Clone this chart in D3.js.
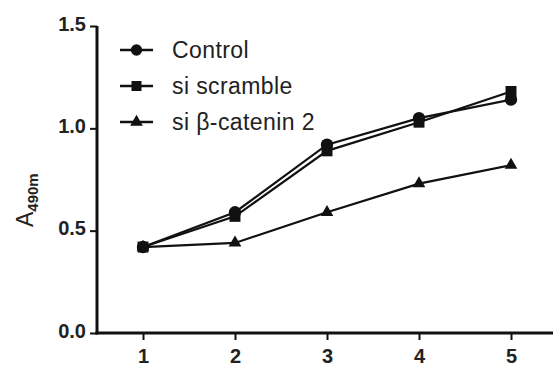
<!DOCTYPE html>
<html>
<head>
<meta charset="utf-8">
<script src="https://cdn.jsdelivr.net/npm/d3@7"></script>
<style>
  body { margin: 0; background: #fff; }
  svg text { font-family: "Liberation Sans", Arial, sans-serif; fill: #222; }
</style>
</head>
<body>
<div id="chart"></div>
<script>
var width = 553, height = 370;

// data
var days = [1, 2, 3, 4, 5];
var control = [0.42, 0.59, 0.92, 1.05, 1.14];
var scramble = [0.42, 0.57, 0.89, 1.03, 1.18];
var siCatenin = [0.42, 0.44, 0.59, 0.73, 0.82];
var yTicks = [0.0, 0.5, 1.0, 1.5];
var seriesNames = ["Control", "si scramble", "si \u03b2-catenin 2"];
var seriesValues = [control, scramble, siCatenin];
var seriesSymbols = [d3.symbolCircle, d3.symbolSquare, d3.symbolTriangle];

var svg = d3.select("#chart").append("svg")
  .attr("width", width)
  .attr("height", height);

var xScale = d3.scaleLinear().domain([0.5, 5.5]).range([97, 557]);
var yScale = d3.scaleLinear().domain([0, 1.5]).range([333, 26]);

// axes
var yAxis = d3.axisLeft(yScale).tickValues(yTicks).tickFormat(d3.format(".1f")).tickSizeOuter(0).tickSize(7).tickPadding(4);
var xAxis = d3.axisBottom(xScale).tickValues(days).tickFormat(d3.format("d")).tickSizeOuter(0).tickSize(7).tickPadding(9);

var yG = svg.append("g")
  .attr("transform", "translate(97,0)")
  .call(yAxis);
var xG = svg.append("g")
  .attr("transform", "translate(0,333)")
  .call(xAxis);

[yG, xG].forEach(function(g) {
  g.select(".domain").attr("stroke", "#111").attr("stroke-width", 3);
  g.selectAll(".tick line").attr("stroke", "#111").attr("stroke-width", 2);
  g.selectAll(".tick text")
    .attr("font-size", 20)
    .style("font-size", "20px")
    .style("font-weight", "bold")
    .style("fill", "#222");
});
yG.selectAll(".tick text").attr("dy", "0.2em");
// extend y axis line up to the 1.5 tick
yG.select(".domain").attr("d", "M0," + yScale(1.5) + "V" + (yScale(0) + 1.5));
xG.select(".domain").attr("d", "M" + (xScale(0.5) - 1.5) + ",0H" + width);

// y label
var yLab = svg.append("text")
  .attr("transform", "translate(33,227) rotate(-90)")
  .attr("text-anchor", "start")
  .style("font-size", "23px");
yLab.append("tspan").text("A");
yLab.append("tspan").attr("dy", 5).style("font-size", "15px").style("font-weight", "bold").text("490m");

// lines and markers
var line = d3.line()
  .x(function(d, i) { return xScale(days[i]); })
  .y(function(d) { return yScale(d); });

seriesValues.forEach(function(vals, s) {
  svg.append("path")
    .datum(vals)
    .attr("d", line)
    .attr("fill", "none")
    .attr("stroke", "#111")
    .attr("stroke-width", 2.2);

  svg.selectAll(".pt-" + s)
    .data(vals)
    .enter()
    .append("path")
    .attr("class", "pt-" + s)
    .attr("transform", function(d, i) { return "translate(" + xScale(days[i]) + "," + yScale(d) + ")"; })
    .attr("d", d3.symbol().type(seriesSymbols[s]).size(s === 2 ? 70 : 120))
    .attr("fill", "#111");
});

// legend
var legend = svg.append("g").attr("transform", "translate(120,50)");
seriesNames.forEach(function(name, i) {
  var row = legend.append("g").attr("transform", "translate(0," + (i * 36) + ")");
  row.append("line")
    .attr("x1", 0).attr("x2", 33)
    .attr("stroke", "#111").attr("stroke-width", 2.5);
  row.append("path")
    .attr("transform", "translate(16.5,0)")
    .attr("d", d3.symbol().type(seriesSymbols[i]).size(i === 2 ? 70 : 100))
    .attr("fill", "#111");
  row.append("text")
    .attr("x", 52)
    .attr("y", 8)
    .style("font-size", "23px")
    .style("letter-spacing", "0.4px")
    .text(name);
});
</script>
</body>
</html>
